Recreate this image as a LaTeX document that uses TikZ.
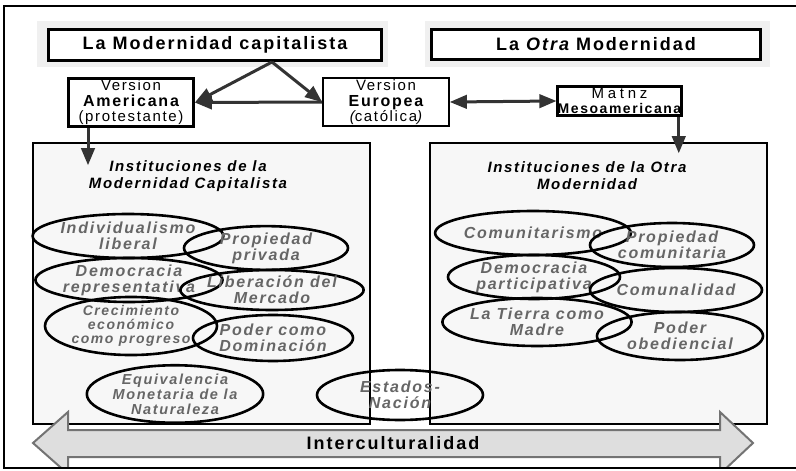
\documentclass[tikz,border=0pt]{standalone}
\usepackage{fontspec}
\setmainfont{Liberation Sans}[LetterSpace=11]
\usetikzlibrary{calc,positioning,arrows,shapes}

\begin{document}
\begin{tikzpicture}[x=1pt, y=-1pt, >=triangle 45]
\tikzstyle{titulo}=[draw, line width=3pt, fill=white, inner sep=0pt,
                    font=\bfseries\fontsize{18}{20}\selectfont]
\tikzstyle{version}=[draw, line width=3pt, fill=white, inner sep=0pt, align=center,
                     font=\fontsize{15}{15}\selectfont]
\tikzstyle{marco}=[draw, line width=2pt, fill=black!3]
\tikzstyle{inst}=[ellipse, draw, line width=2.6pt, inner sep=0pt, align=center,
                  text=black!60, minimum width=166pt, minimum height=44pt,
                  font=\bfseries\itshape\fontsize{16}{16}\selectfont]
\tikzstyle{flecha}=[->, line width=3pt, draw=black!80]
\useasboundingbox (0,0) rectangle (796,471);

% titles with their faint halo
\fill[black!6] (37,21) rectangle (388,67);
\fill[black!6] (425,21) rectangle (770,67);
\node[titulo, minimum width=333pt, minimum height=31pt] (modcap) at (215,45)
  {La Modernidad capitalista};
\node[titulo, minimum width=329pt, minimum height=30pt] (otramod) at (596,44.5)
  {La {\itshape Otra} Modernidad};

% versions
\node[version, minimum width=125pt, minimum height=48pt] (ameri) at (131,102.5)
  {Version\\[1pt]
   {\fontsize{16}{17}\selectfont\bfseries Americana}\\
   (protestante)};
\node[version, line width=2pt, minimum width=126pt, minimum height=48pt] (europ) at (386,102)
  {Version\\[1pt]
   {\fontsize{16}{17}\selectfont\bfseries Europea}\\
   {\itshape(}católica{\itshape)}};
\node[version, minimum width=122pt, minimum height=29pt] (meso) at (619.5,101)
  {{\addfontfeature{LetterSpace=25}Matnz}\\
   {\fontsize{14}{14}\selectfont\bfseries Mesoamericana}};

\coordinate (apex) at (272,62);
\draw[flecha] (apex) -- (ameri.east);
\draw[flecha] (apex) -- (europ.west);
\draw[flecha] (europ.west) -- (ameri.east);
\draw[flecha, <->] (europ.east) -- (meso.west);

% institutions
\draw[marco] (33,143) rectangle (370,424);
\draw[marco] (430,143) rectangle (767,424);
\node[font=\bfseries\itshape\fontsize{15}{17}\selectfont, align=center] (tcap) at (188,176)
  {Instituciones de la\\Modernidad Capitalista};
\node[font=\bfseries\itshape\fontsize{15}{17}\selectfont, align=center] (totra) at (587,176)
  {Instituciones de la Otra\\Modernidad};
\draw[flecha] ($(ameri.south west)+(21,0)$) -- ++(0,37);
\draw[flecha] ($(meso.south east)+(-4,0)$) -- ++(0,36);

\node[inst] (indiv) at (128,236) {Individualismo\\liberal};
\node[inst, minimum width=164pt, minimum height=42pt] (propp) at (266,248) {Propiedad\\privada};
\node[inst, minimum width=168pt] (demrep) at (129,280) {Democracia\\representativa};
\node[inst, minimum width=164pt, minimum height=40pt] (libmer) at (272,290) {Liberación del\\Mercado};
\node[inst, minimum width=172pt, minimum height=48pt,
      font=\bfseries\itshape\fontsize{14}{14}\selectfont] (crec) at (131,326)
  {Crecimiento\\económico\\como progreso};
\node[inst, minimum width=160pt, minimum height=46pt] (poder) at (273,338) {Poder como\\Dominación};
\node[inst, minimum height=52pt,
      font=\bfseries\itshape\fontsize{14.5}{15}\selectfont] (equiv) at (175,394)
  {Equivalencia\\Monetaria de la\\Naturaleza};

\node[inst, minimum width=170pt] (comun) at (533,233) {Comunitarismo};
\node[inst, minimum width=164pt] (propc) at (672,245) {Propiedad\\comunitaria};
\node[inst, minimum width=172pt] (dempar) at (534,277) {Democracia\\participativa};
\node[inst, minimum width=172pt] (comunal) at (676,290) {Comunalidad};
\node[inst, minimum width=178pt, minimum height=48pt] (tierra) at (537,322) {La Tierra como\\Madre};
\node[inst, minimum height=48pt] (poderob) at (680,336) {Poder\\obediencial};

\node[inst, minimum height=50pt] (estados) at (400,395) {Estados-\\Nación};

% interculturalidad
\begin{scope}
\clip (0,0) rectangle (796,468);
\draw[line width=2pt, draw=black!55, fill=black!13]
  (33,443) -- (68,412) -- (68,430) -- (720,430) -- (720,412) -- (753,443)
  -- (720,474) -- (720,457) -- (68,457) -- (68,474) -- cycle;
\end{scope}
\node[font=\bfseries\fontsize{18}{20}\selectfont] (intercult) at (393,443) {Interculturalidad};

% frame
\draw[line width=2.5pt] (796,6) -- (4,6) -- (4,468) -- (796,468);
\end{tikzpicture}
\end{document}
